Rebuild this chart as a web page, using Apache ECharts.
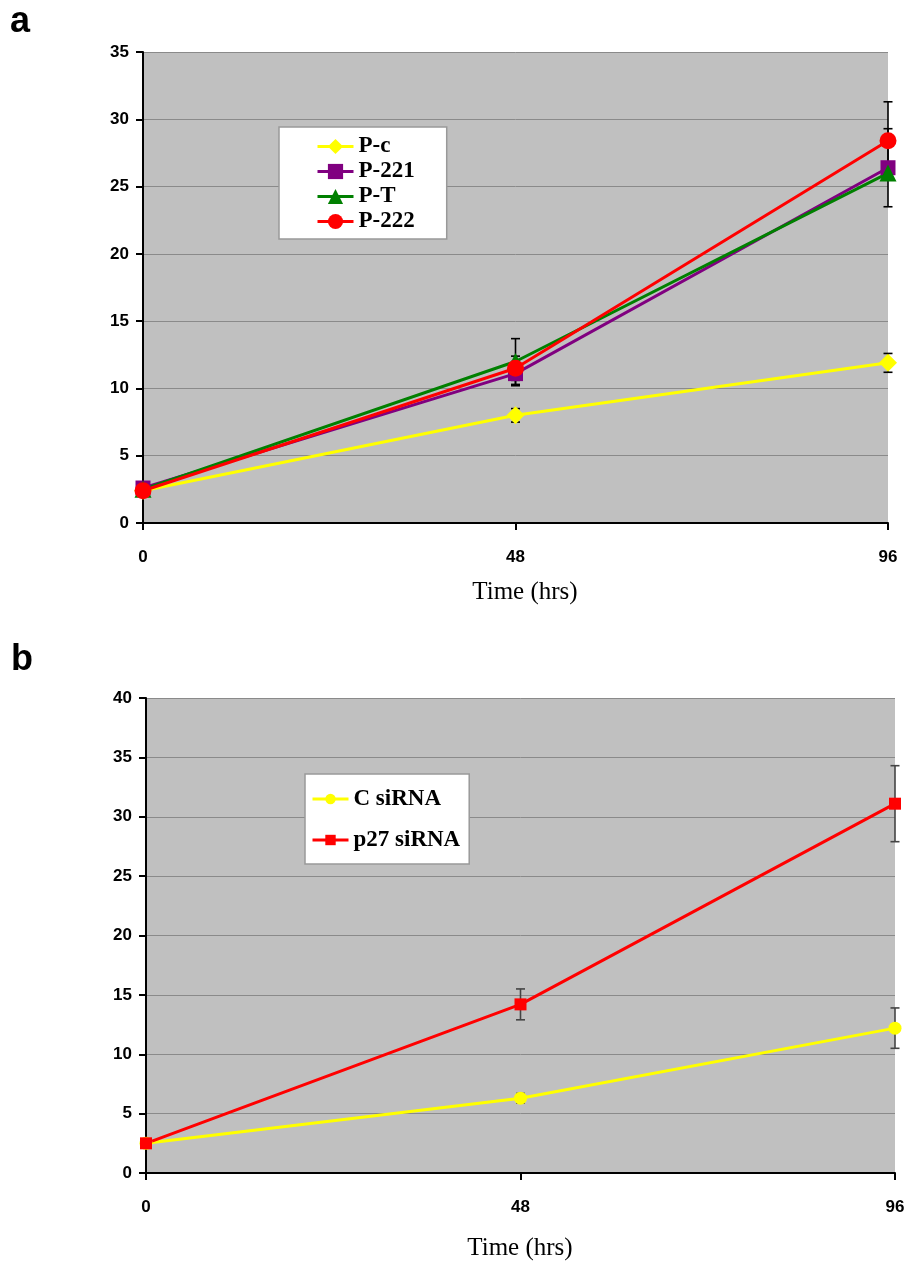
<!DOCTYPE html>
<html>
<head>
    <meta charset="utf-8">
    <title>Proliferation curves</title>
    <style>
        body { margin: 0; background: #fff; }
    </style>
</head>
<body>
    <div id="main" style="width: 911px;height:1263px;"></div>

    <script src="https://cdn.jsdelivr.net/npm/echarts@6/dist/echarts.min.js"></script>
    <script>
        // time points (hrs)
        var timeVals = [0, 48, 96];

        // panel a
        var pcVals = [2.4, 8.0, 11.9];
        var pcErr = [0.2, 0.5, 0.7];
        var p221Vals = [2.6, 11.1, 26.4];
        var p221Err = [0, 0.9, 2.9];
        var ptVals = [2.5, 12.0, 26.0];
        var ptErr = [0, 1.7, 0];
        var p222Vals = [2.4, 11.5, 28.4];
        var p222Err = [0, 0.9, 2.9];

        // panel b
        var csVals = [2.5, 6.3, 12.2];
        var csErr = [0, 0.4, 1.7];
        var p27Vals = [2.5, 14.2, 31.1];
        var p27Err = [0, 1.3, 3.2];

        var myChart = echarts.init(document.getElementById('main'));

        function pts(vals) {
            return timeVals.map(function (t, i) { return [t, vals[i]]; });
        }
        function errPts(vals, errs) {
            var out = [];
            timeVals.forEach(function (t, i) {
                if (errs[i] > 0) out.push([t, vals[i] - errs[i], vals[i] + errs[i]]);
            });
            return out;
        }

        function errSeries(idx, vals, errs, color) {
            return {
                type: 'custom',
                xAxisIndex: idx,
                yAxisIndex: idx,
                z: 1,
                silent: true,
                data: errPts(vals, errs),
                renderItem: function (params, api) {
                    var lo = api.coord([api.value(0), api.value(1)]);
                    var hi = api.coord([api.value(0), api.value(2)]);
                    var w = 4.5;
                    var st = { stroke: color, lineWidth: 1.6 };
                    return {
                        type: 'group',
                        children: [
                            { type: 'line', shape: { x1: lo[0], y1: lo[1], x2: hi[0], y2: hi[1] }, style: st },
                            { type: 'line', shape: { x1: lo[0] - w, y1: lo[1], x2: lo[0] + w, y2: lo[1] }, style: st },
                            { type: 'line', shape: { x1: hi[0] - w, y1: hi[1], x2: hi[0] + w, y2: hi[1] }, style: st }
                        ]
                    };
                }
            };
        }

        function lineSeries(idx, name, vals, color, symbol, size) {
            return {
                name: name,
                type: 'line',
                xAxisIndex: idx,
                yAxisIndex: idx,
                z: 3,
                data: pts(vals),
                symbol: symbol,
                symbolSize: size,
                showAllSymbol: true,
                lineStyle: { color: color, width: 3 },
                itemStyle: { color: color, borderWidth: 0 },
                animation: false
            };
        }

        var tickFont = { color: '#000', fontFamily: 'Liberation Sans, Arial', fontWeight: 'bold', fontSize: 17 };

        function xAx(idx) {
            return {
                type: 'value', gridIndex: idx, min: 0, max: 96, interval: 48,
                axisLine: { lineStyle: { color: '#000', width: 2 } },
                axisTick: { length: 7, lineStyle: { color: '#000', width: 2 } },
                axisLabel: Object.assign({ margin: 26 }, tickFont),
                splitLine: { show: false }
            };
        }
        function yAx(idx, max) {
            return {
                type: 'value', gridIndex: idx, min: 0, max: max, interval: 5,
                axisLine: { show: true, lineStyle: { color: '#000', width: 2 } },
                axisTick: { show: true, length: 7, lineStyle: { color: '#000', width: 2 } },
                axisLabel: Object.assign({ margin: 14 }, tickFont),
                splitLine: { lineStyle: { color: '#8a8a8a', width: 1 } }
            };
        }

        var legendText = { color: '#000', fontFamily: 'Liberation Serif, Times New Roman', fontWeight: 'bold', fontSize: 23 };

        var option = {
            animation: false,
            grid: [
                { left: 143, top: 52, width: 745, height: 471, show: true, backgroundColor: '#c0c0c0', borderWidth: 0 },
                { left: 146, top: 698, width: 749, height: 475, show: true, backgroundColor: '#c0c0c0', borderWidth: 0 }
            ],
            xAxis: [xAx(0), xAx(1)],
            yAxis: [yAx(0, 35), yAx(1, 40)],
            legend: [
                {
                    data: ['P-c', 'P-221', 'P-T', 'P-222'],
                    orient: 'vertical', left: 279, top: 127,
                    backgroundColor: '#fff', borderColor: '#999', borderWidth: 1.5,
                    padding: [8, 32, 6, 37],
                    itemWidth: 36, itemHeight: 19, itemGap: 2,
                    selectedMode: false,
                    lineStyle: { width: 3 },
                    textStyle: Object.assign({ lineHeight: 21 }, legendText)
                },
                {
                    data: ['C siRNA', 'p27 siRNA'],
                    orient: 'vertical', left: 305, top: 774,
                    backgroundColor: '#fff', borderColor: '#999', borderWidth: 1.5,
                    padding: [13, 9, 12, 6],
                    itemWidth: 36, itemHeight: 13, itemGap: 17,
                    selectedMode: false,
                    lineStyle: { width: 3 },
                    textStyle: Object.assign({ lineHeight: 24 }, legendText)
                }
            ],
            graphic: [
                { type: 'text', left: 10, top: 4, style: { text: 'a', font: 'bold 36px Liberation Sans, Arial', fill: '#000' } },
                { type: 'text', left: 11, top: 642, style: { text: 'b', font: 'bold 36px Liberation Sans, Arial', fill: '#000' } },
                { type: 'text', x: 525, y: 592, style: { text: 'Time (hrs)', font: '25px Liberation Serif, Times New Roman', fill: '#000', align: 'center', verticalAlign: 'middle' } },
                { type: 'text', x: 520, y: 1248, style: { text: 'Time (hrs)', font: '25px Liberation Serif, Times New Roman', fill: '#000', align: 'center', verticalAlign: 'middle' } }
            ],
            series: [
                errSeries(0, pcVals, pcErr, '#000'),
                errSeries(0, p221Vals, p221Err, '#000'),
                errSeries(0, ptVals, ptErr, '#000'),
                errSeries(0, p222Vals, p222Err, '#000'),
                lineSeries(0, 'P-c', pcVals, '#ffff00', 'diamond', 18),
                lineSeries(0, 'P-221', p221Vals, '#800080', 'rect', 15),
                lineSeries(0, 'P-T', ptVals, '#008000', 'triangle', 17),
                lineSeries(0, 'P-222', p222Vals, '#ff0000', 'circle', 17),
                errSeries(1, csVals, csErr, '#444'),
                errSeries(1, p27Vals, p27Err, '#444'),
                lineSeries(1, 'C siRNA', csVals, '#ffff00', 'circle', 13),
                lineSeries(1, 'p27 siRNA', p27Vals, '#ff0000', 'rect', 12)
            ]
        };

        myChart.setOption(option);
    </script>
</body>
</html>
